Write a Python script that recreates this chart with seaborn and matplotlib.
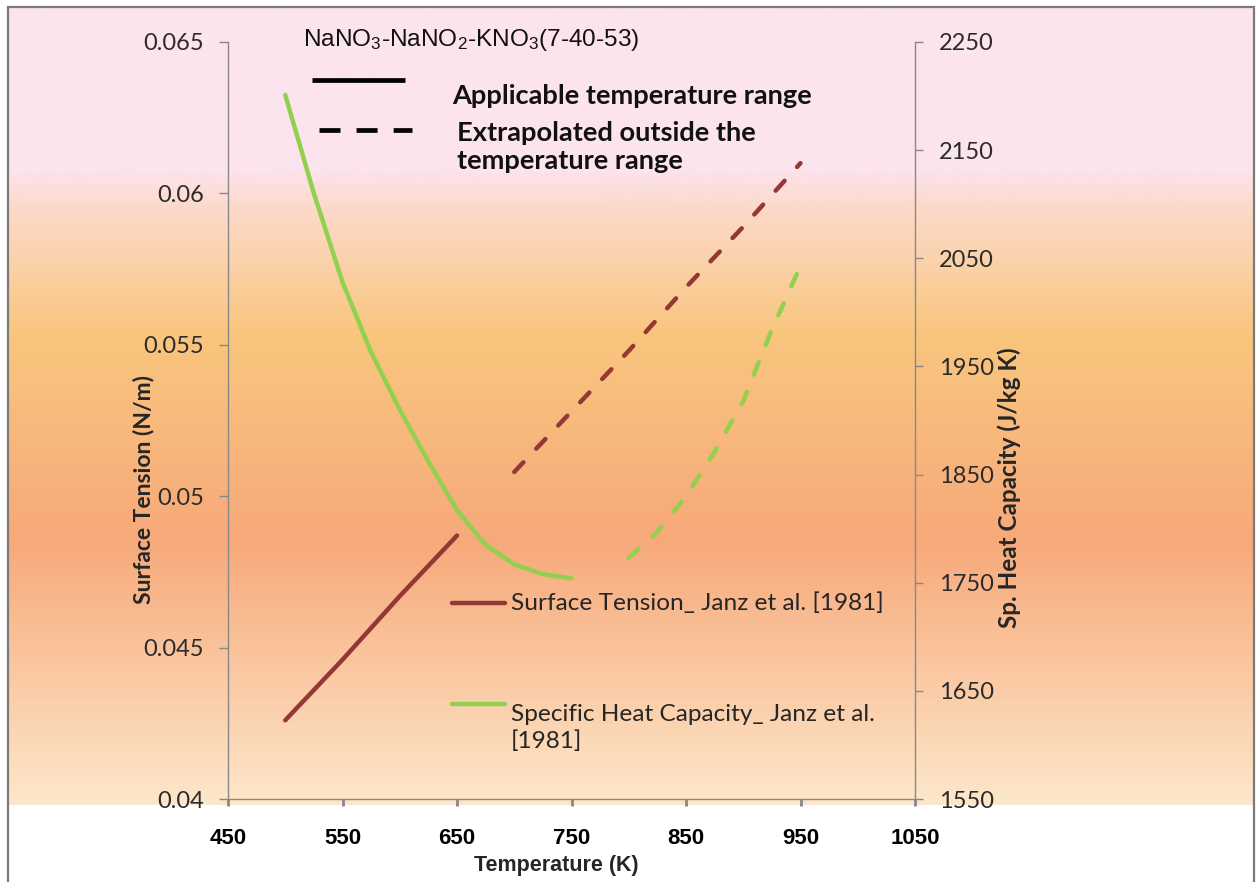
import numpy as np
import matplotlib
matplotlib.use('Agg')
import matplotlib.pyplot as plt
import seaborn as sns
from matplotlib.colors import LinearSegmentedColormap
from matplotlib.lines import Line2D
from matplotlib.patches import Rectangle
from matplotlib.ticker import FuncFormatter

# data
temp_st_fit = [500, 550, 600, 650]
st_fit = [0.0426, 0.0446, 0.0467, 0.0487]
temp_st_ext = [700, 750, 800, 850, 900, 950]
st_ext = [0.0508, 0.0528, 0.0548, 0.0569, 0.0589, 0.0610]

temp_cp_fit = [500, 525, 550, 575, 600, 625, 650, 675, 700, 725, 750]
cp_fit = [2201, 2110, 2028, 1963, 1910, 1862, 1817, 1785, 1767, 1758, 1754]
temp_cp_ext = [800, 825, 850, 875, 900, 925, 950]
cp_ext = [1773, 1797, 1830, 1871, 1918, 1984, 2043]

x_ticks = [450, 550, 650, 750, 850, 950, 1050]
st_ticks = [0.04, 0.045, 0.05, 0.055, 0.06, 0.065]
cp_ticks = [1550, 1650, 1750, 1850, 1950, 2050, 2150, 2250]

RED = '#953735'
GREEN = '#92D050'
W, H = 1257, 882


def fx(px):
    return px / W


def fy(py):
    return 1 - py / H


sns.set_style('ticks')
plt.rcParams['font.family'] = ['Lato', 'DejaVu Sans']

fig = plt.figure(figsize=(W / 100, H / 100), dpi=100)

# gradient background
bg = fig.add_axes([fx(8), fy(805), fx(1254 - 8), (805 - 7) / H], zorder=0)
cmap = LinearSegmentedColormap.from_list('sunset', [
    (0.0, '#FCE4EE'), (0.2, '#FCE4EE'), (0.25, '#FCDACA'),
    (0.41, '#F9C67E'), (0.67, '#F7A97A'), (1.0, '#FDE7CA')])
bg.imshow(np.linspace(0, 1, 400).reshape(-1, 1), aspect='auto', cmap=cmap,
          extent=[0, 1, 1, 0])
bg.set_axis_off()
fig.add_artist(Rectangle((fx(8), -0.01), fx(1254 - 8), fy(7) + 0.01,
                         transform=fig.transFigure, fill=False,
                         edgecolor='#7a7a7a', lw=1.6, zorder=5))

ax = fig.add_axes([fx(228), fy(799), fx(915 - 228), (799 - 42) / H], zorder=2)
ax.set_facecolor('none')
ax2 = ax.twinx()
ax2.set_facecolor('none')

dash = (0, (3.0, 4.2))
sns.lineplot(x=temp_st_fit, y=st_fit, ax=ax, color=RED, lw=3.2,
             solid_capstyle='round')
sns.lineplot(x=temp_st_ext, y=st_ext, ax=ax, color=RED, lw=3.2,
             linestyle=dash, dash_capstyle='round')
sns.lineplot(x=temp_cp_fit, y=cp_fit, ax=ax2, color=GREEN, lw=3.2,
             solid_capstyle='round', solid_joinstyle='round')
sns.lineplot(x=temp_cp_ext, y=cp_ext, ax=ax2, color=GREEN, lw=3.2,
             linestyle=dash, dash_capstyle='round')

ax.set_xlim(450, 1050)
ax.set_ylim(0.04, 0.065)
ax2.set_ylim(1550, 2250)
ax.set_xticks(x_ticks)
ax.set_yticks(st_ticks)
ax2.set_yticks(cp_ticks)
ax.yaxis.set_major_formatter(FuncFormatter(lambda v, p: f'{v:g}'))

for a in (ax, ax2):
    for s in a.spines.values():
        s.set_color('#888888')
        s.set_linewidth(1.0)
    a.spines['top'].set_visible(False)
ax.spines['right'].set_visible(False)
ax2.spines['left'].set_visible(False)
ax2.spines['bottom'].set_visible(False)

ax.tick_params(axis='y', direction='out', length=6.5, width=1, color='#888888',
               pad=11, labelsize=17, labelcolor='#2b2b2b')
ax2.tick_params(axis='y', direction='out', length=6, width=1, color='#888888',
                pad=11, labelsize=17, labelcolor='#2b2b2b')
ax.tick_params(axis='x', direction='out', length=5, width=2, color='#888888',
               pad=16, labelcolor='black')
for t in ax.get_xticklabels():
    t.set_family(['Liberation Sans', 'DejaVu Sans'])
    t.set_fontweight('bold')
    t.set_fontsize(16)

ax.set_xlabel('Temperature (K)', family=['Liberation Sans', 'DejaVu Sans'],
              fontweight='bold', fontsize=15.5, va='center')
ax.xaxis.set_label_coords((556 - 228) / 687, (799 - 865) / 757)
ax.set_ylabel('Surface Tension (N/m)', fontweight='bold', fontsize=16.5,
              va='center')
ax.yaxis.set_label_coords((143 - 228) / 687, (799 - 490) / 757)
ax2.set_ylabel('Sp. Heat Capacity (J/kg K)', fontweight='bold', fontsize=17.5,
               va='center', rotation=90)
ax2.yaxis.set_label_coords((1009 - 228) / 687, (799 - 488) / 757)

# key for solid / dashed
fig.text(fx(303), fy(40), r'NaNO$\mathregular{_3}$-NaNO$\mathregular{_2}$-KNO$\mathregular{_3}$(7-40-53)',
         family=['Liberation Sans', 'DejaVu Sans'], fontsize=17.6,
         va='center', ha='left', color='#111111')
fig.add_artist(Line2D([fx(312), fx(405)], [fy(80), fy(80)], color='black',
                      lw=3.4, transform=fig.transFigure, solid_capstyle='butt'))
fig.add_artist(Line2D([fx(319), fx(412)], [fy(130), fy(130)], color='black',
                      lw=3.4, linestyle=(0, (4.45, 3.4)),
                      transform=fig.transFigure, dash_capstyle='butt'))
fig.text(fx(452), fy(96), 'Applicable temperature range', fontweight='bold',
         fontsize=19.6, va='center', ha='left', color='#111111')
fig.text(fx(457), fy(147), 'Extrapolated outside the\ntemperature range',
         fontweight='bold', fontsize=19.6, va='center', ha='left',
         linespacing=1.2, color='#111111')

# series key
fig.add_artist(Line2D([fx(452), fx(505)], [fy(603), fy(603)], color=RED,
                      lw=3.2, transform=fig.transFigure, solid_capstyle='round'))
fig.add_artist(Line2D([fx(452), fx(505)], [fy(704), fy(704)], color=GREEN,
                      lw=3.2, transform=fig.transFigure, solid_capstyle='round'))
fig.text(fx(511), fy(603), 'Surface Tension_ Janz et al. [1981]',
         fontsize=17.6, color='#262626', va='center', ha='left')
fig.text(fx(511), fy(704), 'Specific Heat Capacity_ Janz et al.\n[1981]',
         fontsize=17.6, color='#262626', va='top', ha='left', linespacing=1.3)

fig.savefig('out.png', dpi=100)
